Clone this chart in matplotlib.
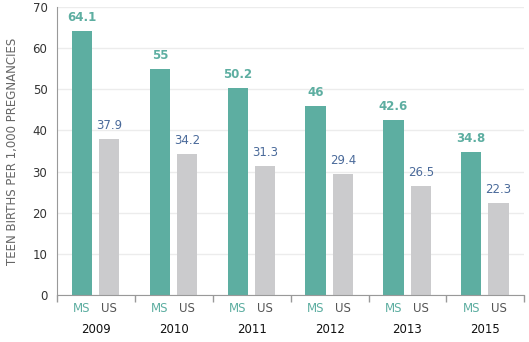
import matplotlib.pyplot as plt
import numpy as np

years = ["2009", "2010", "2011", "2012", "2013", "2015"]
ms_values = [64.1, 55, 50.2, 46, 42.6, 34.8]
us_values = [37.9, 34.2, 31.3, 29.4, 26.5, 22.3]
ms_labels = ["64.1", "55", "50.2", "46", "42.6", "34.8"]
us_labels = ["37.9", "34.2", "31.3", "29.4", "26.5", "22.3"]

teal = "#5daea1"
grey = "#cbcbcd"
label_blue = "#4a6a9a"

plt.rcParams["font.family"] = ["DejaVu Sans"]

fig = plt.figure(figsize=(5.29, 3.42), dpi=100)
ax = fig.add_axes([0.108, 0.137, 0.883, 0.843])

x = np.arange(len(years))
w = 0.26
ms_x = x - 0.18
us_x = x + 0.17

ax.bar(ms_x, ms_values, width=w, color=teal, zorder=2)
ax.bar(us_x, us_values, width=w, color=grey, zorder=2)

for xi, v, s in zip(ms_x, ms_values, ms_labels):
    ax.annotate(s, (xi, v), xytext=(0, 5), textcoords="offset points",
                ha="center", va="bottom", fontsize=8.5, fontweight="bold", color=teal)
for xi, v, s in zip(us_x, us_values, us_labels):
    ax.annotate(s, (xi, v), xytext=(0, 5), textcoords="offset points",
                ha="center", va="bottom", fontsize=8.5, color=label_blue)

ax.set_xlim(-0.5, len(years) - 0.5)
ax.set_ylim(0, 70)
ax.set_yticks(range(0, 71, 10))
ax.tick_params(axis="y", length=0, labelsize=8.5, colors="#333333", pad=7)
ax.set_ylabel("TEEN BIRTHS PER 1,000 PREGNANCIES", fontsize=8.5, color="#666666", labelpad=10)

# group boundary ticks on the x axis, labels drawn by hand
ax.set_xticks(np.arange(-0.5, len(years), 1.0))
ax.set_xticklabels([])
ax.tick_params(axis="x", length=5, color="#999999", width=1)

trans = ax.get_xaxis_transform()
for xi in ms_x:
    ax.text(xi, -0.025, "MS", transform=trans, ha="center", va="top", fontsize=8.5, color=teal)
for xi in us_x:
    ax.text(xi, -0.025, "US", transform=trans, ha="center", va="top", fontsize=8.5, color="#555555")
for xi, yr in zip(x, years):
    ax.text(xi, -0.095, yr, transform=trans, ha="center", va="top", fontsize=8.5, color="#111111")

ax.grid(axis="y", color="#ececec", linewidth=1, zorder=0)
ax.set_axisbelow(True)
for side in ["top", "right"]:
    ax.spines[side].set_visible(False)
ax.spines["left"].set_color("#999999")
ax.spines["bottom"].set_color("#999999")

fig.savefig("out.png", dpi=100)
